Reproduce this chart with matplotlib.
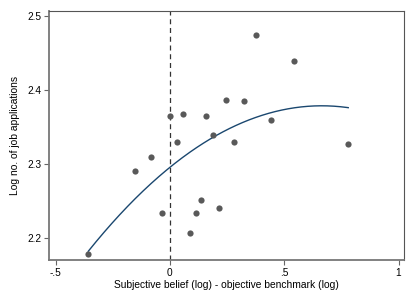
import matplotlib
matplotlib.use('Agg')
import matplotlib.pyplot as plt
import numpy as np

plt.rcParams['font.family'] = ['Liberation Sans', 'DejaVu Sans']

# Scatter points
belief_gap = [0.000, 0.057, 0.160, 0.031, 0.375, 0.544, 0.245, 0.322, 0.440, 0.188,
              0.280, 0.780, -0.083, -0.153, -0.034, -0.357, 0.086, 0.114, 0.137, 0.216]
log_apps = [2.365, 2.368, 2.365, 2.329, 2.474, 2.439, 2.387, 2.385, 2.359, 2.339,
            2.329, 2.327, 2.310, 2.290, 2.233, 2.178, 2.206, 2.234, 2.251, 2.241]

x_ticks = [-0.5, 0, 0.5, 1]
x_labels = ['-.5', '0', '.5', '1']
y_ticks = [2.2, 2.3, 2.4, 2.5]
y_labels = ['2.2', '2.3', '2.4', '2.5']

x = np.array(belief_gap)
y = np.array(log_apps)

# quadratic fit line
coef = np.polyfit(x, y, 2)
xs = np.linspace(x.min(), x.max(), 200)
ys = np.polyval(coef, xs)

fig, ax = plt.subplots(figsize=(4.15, 3.02), dpi=100)
fig.subplots_adjust(left=0.118, right=0.973, top=0.964, bottom=0.139)

ax.scatter(x, y, s=20, color='#595959', zorder=3, linewidths=0)
ax.plot(xs, ys, color='#1a476f', linewidth=1.0, zorder=2)
ax.axvline(0, color='#333333', linestyle=(0, (4, 3)), linewidth=0.9, zorder=1)

ax.set_xlim(-0.529, 1.023)
ax.set_ylim(2.170, 2.507)
ax.set_xticks(x_ticks)
ax.set_xticklabels(x_labels)
ax.set_yticks(y_ticks)
ax.set_yticklabels(y_labels)

ax.tick_params(direction='out', length=3.5, width=0.8, color='#666666',
               labelsize=7.3, pad=2)
ax.set_xlabel('Subjective belief (log) - objective benchmark (log)', fontsize=7.4, labelpad=2)
ax.set_ylabel('Log no. of job applications', fontsize=7.4, labelpad=5)

for side in ['left', 'bottom']:
    ax.spines[side].set_color('#777777')
    ax.spines[side].set_linewidth(1.3)
for side in ['top', 'right']:
    ax.spines[side].set_color('#555555')
    ax.spines[side].set_linewidth(0.8)

plt.savefig('out.png', dpi=100)
